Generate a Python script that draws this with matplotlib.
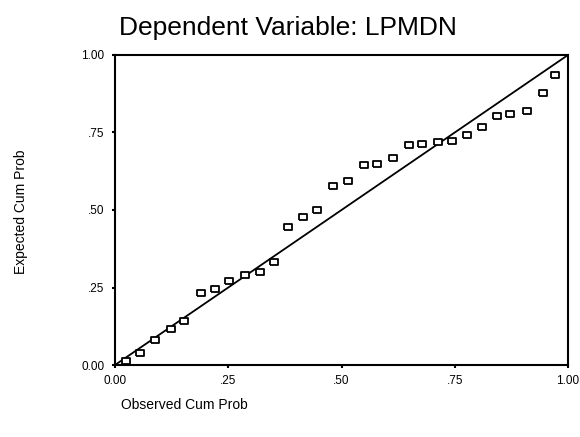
import numpy as np
import matplotlib
matplotlib.use("Agg")
import matplotlib.pyplot as plt

# P-P plot values
observed = [0.025, 0.055, 0.089, 0.124, 0.153, 0.189, 0.220, 0.251, 0.286, 0.319,
            0.351, 0.382, 0.416, 0.446, 0.481, 0.515, 0.549, 0.579, 0.613, 0.648,
            0.677, 0.712, 0.745, 0.777, 0.810, 0.844, 0.873, 0.909, 0.944, 0.971]
expected = [0.014, 0.038, 0.081, 0.115, 0.143, 0.231, 0.244, 0.272, 0.289, 0.299,
            0.332, 0.446, 0.476, 0.501, 0.577, 0.594, 0.645, 0.648, 0.667, 0.709,
            0.712, 0.720, 0.724, 0.742, 0.767, 0.804, 0.810, 0.820, 0.876, 0.935]
ticks = [0.0, 0.25, 0.5, 0.75, 1.0]
tick_labels = ["0.00", ".25", ".50", ".75", "1.00"]

plt.rcParams['font.family'] = ['Liberation Sans', 'DejaVu Sans']

fig = plt.figure(figsize=(5.8, 4.37), dpi=100)
# axes box roughly x 115..568, y 55..365 px
ax = fig.add_axes([115 / 580, (437 - 365) / 437, 453 / 580, 310 / 437])

# small hollow rectangle marker, wider than tall
rect = [(-1, -0.72), (1, -0.72), (1, 0.72), (-1, 0.72), (-1, -0.72)]
ax.plot([0, 1], [0, 1], color="black", lw=1.3)
ax.plot(observed, expected, linestyle="none", marker=rect, markersize=5.2,
        markerfacecolor="white", markeredgecolor="black", markeredgewidth=1.3)

ax.set_xlim(0, 1)
ax.set_ylim(0, 1)
ax.set_xticks(ticks)
ax.set_xticklabels(tick_labels)
ax.set_yticks(ticks)
ax.set_yticklabels(tick_labels)
ax.tick_params(direction="out", length=2.5, width=1.5, labelsize=8.5, pad=5)
for s in ax.spines.values():
    s.set_linewidth(1.5)

fig.text(288 / 580, (437 - 35) / 437, "Dependent Variable: LPMDN",
         ha="center", va="baseline", fontsize=19)
fig.text(21 / 580, (437 - 212) / 437, "Expected Cum Prob", rotation=90,
         ha="center", va="center", fontsize=10)
fig.text(121 / 580, (437 - 405) / 437, "Observed Cum Prob",
         ha="left", va="center", fontsize=10)

fig.savefig("out.png", dpi=100)
